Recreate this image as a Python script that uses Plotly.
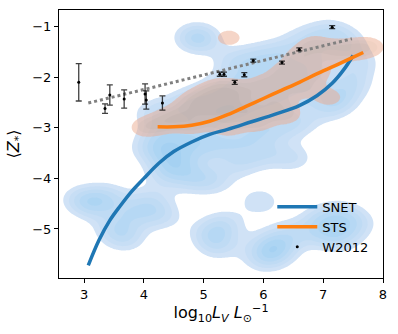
import numpy as np
import plotly.graph_objects as go

# ---- data ----
# SNET / STS running means
snet_x = [3.07, 3.25, 3.43, 3.6, 3.8, 4.0, 4.25, 4.5, 4.8, 5.1, 5.4, 5.8, 6.2, 6.6, 6.9, 7.15, 7.35, 7.5]
snet_y = [-5.72, -5.22, -4.83, -4.55, -4.25, -4.0, -3.70, -3.47, -3.28, -3.13, -3.03, -2.88, -2.73, -2.56, -2.36, -2.12, -1.84, -1.57]
sts_x = [4.23, 4.5, 4.8, 5.1, 5.4, 5.7, 6.0, 6.3, 6.6, 6.9, 7.2, 7.45, 7.67]
sts_y = [-2.98, -2.98, -2.95, -2.87, -2.74, -2.58, -2.42, -2.26, -2.10, -1.93, -1.77, -1.63, -1.51]

# W2012 observations
obs_x = [2.91, 3.35, 3.43, 3.67, 4.02, 4.04, 4.31, 5.27, 5.34, 5.52, 5.68, 5.83, 6.31, 6.6, 7.15]
obs_y = [-2.10, -2.62, -2.35, -2.43, -2.33, -2.45, -2.51, -1.94, -1.94, -2.10, -1.95, -1.67, -1.71, -1.45, -1.01]
obs_err = [0.37, 0.095, 0.2, 0.18, 0.2, 0.18, 0.14, 0.04, 0.04, 0.04, 0.04, 0.03, 0.03, 0.03, 0.03]

# W2012 fit
fit_x = [3.07, 7.48]
fit_y = [-2.51, -1.24]

# galaxies behind the density contours
snet_gx = [4.85, 4.95,
           5.5, 5.9, 6.3, 6.7, 7.1, 7.4, 7.6, 7.5, 7.3, 6.9, 6.5, 6.1, 5.7, 5.3, 4.9, 4.6, 4.15, 4.1,
           4.3, 4.4, 4.7, 5.0, 5.3, 5.6, 6.0, 6.4, 6.8, 7.1, 6.6, 6.2, 5.8, 5.4, 5.0, 4.6, 4.35, 4.8, 5.15, 5.6, 6.0, 6.5,
           2.95, 3.15, 3.4, 3.5, 3.7, 3.8, 4.1, 4.3,
           5.1, 5.25, 5.35, 5.95, 6.1, 6.25, 6.45, 6.0,
           6.95, 7.3, 7.55, 7.3, 7.0]
snet_gy = [-1.2, -1.25,
           -1.7, -1.6, -1.5, -1.25, -1.1, -1.3, -1.7, -2.1, -2.4, -1.7, -1.9, -2.0, -2.1, -2.2, -2.4, -2.6, -2.7, -3.4,
           -3.1, -3.5, -3.2, -2.9, -2.7, -2.6, -2.5, -2.4, -2.2, -2.6, -2.9, -3.0, -3.1, -3.3, -3.4, -3.7, -3.9, -4.0, -4.05, -3.7, -3.5, -3.6,
           -4.4, -4.55, -4.35, -5.0, -5.2, -4.7, -4.45, -4.75,
           -5.1, -5.35, -4.9, -4.45, -5.3, -5.45, -5.1, -5.6,
           -4.8, -4.7, -4.9, -5.2, -5.1]
sts_gx = [5.42,
          4.0, 4.3, 4.55, 4.8, 4.8, 5.05, 5.1, 5.3, 5.4, 5.4, 5.6, 5.75, 5.9, 6.0, 6.2, 6.35, 6.4, 6.6, 6.6,
          6.85, 6.9, 7.1, 7.2, 7.5, 7.8]
sts_gy = [-1.22,
          -3.0, -2.9, -2.75, -2.5, -2.95, -2.35, -2.7, -2.2, -2.6, -3.0, -2.3, -2.65, -2.9, -2.15, -2.5, -1.9, -2.75, -2.2, -1.6,
          -1.35, -1.9, -2.4, -1.5, -1.45, -1.4]

XR = [2.58, 8.0]
YR = [-5.97, -0.67]


def kde(px, py, bx, by):
    gx = np.linspace(XR[0], XR[1], 220)
    gy = np.linspace(YR[0], YR[1], 220)
    X, Y = np.meshgrid(gx, gy)
    Z = np.zeros_like(X)
    for a, b in zip(px, py):
        Z += np.exp(-((X - a) ** 2 / (2 * bx ** 2) + (Y - b) ** 2 / (2 * by ** 2)))
    return gx, gy, Z


def density_trace(px, py, bw, lo, hi, opacity, top):
    gx, gy, Z = kde(px, py, *bw)
    return go.Contour(
        x=gx, y=gy, z=Z,
        zmin=0, zmax=top,
        contours=dict(start=0.35, end=top, size=top / 11, coloring="fill"),
        colorscale=[[0, "rgba(255,255,255,0)"], [0.3 / top, "rgba(255,255,255,0)"],
                    [0.3 / top + 0.0001, lo], [1, hi]],
        line=dict(width=0), opacity=opacity,
        showscale=False, showlegend=False, hoverinfo="skip",
    )


fig = go.Figure()
fig.add_trace(density_trace(snet_gx, snet_gy, (0.27, 0.22),
                            "rgb(214,228,246)", "rgb(135,198,240)", 1, 4))
fig.add_trace(density_trace(sts_gx, sts_gy, (0.22, 0.17),
                            "rgb(244,178,150)", "rgb(155,110,70)", 0.5, 4))

fig.add_trace(go.Scatter(
    x=fit_x, y=fit_y, mode="lines",
    line=dict(color="#808080", width=3, dash="dot"),
    showlegend=False, hoverinfo="skip",
))
fig.add_trace(go.Scatter(
    x=snet_x, y=snet_y, mode="lines", name="SNET",
    line=dict(color="#1f77b4", width=3.5, shape="spline"),
))
fig.add_trace(go.Scatter(
    x=sts_x, y=sts_y, mode="lines", name="STS",
    line=dict(color="#ff7f0e", width=3.5, shape="spline"),
))
fig.add_trace(go.Scatter(
    x=obs_x, y=obs_y, mode="markers", name="W2012",
    marker=dict(color="black", size=3),
    error_y=dict(type="data", array=obs_err, color="rgba(0,0,0,0.75)", thickness=1.3, width=3),
))

fig.update_layout(
    width=398, height=334,
    margin=dict(l=59, r=15, t=10, b=56),
    plot_bgcolor="white", paper_bgcolor="white",
    font=dict(family="DejaVu Sans", size=13, color="black"),
    legend=dict(x=0.97, y=0.06, xanchor="right", yanchor="bottom",
                bgcolor="rgba(0,0,0,0)", font=dict(size=13), itemwidth=40,
                tracegroupgap=0),
)
fig.update_xaxes(
    range=XR, tickvals=[3, 4, 5, 6, 7, 8], showgrid=False, zeroline=False,
    showline=True, linecolor="black", linewidth=1, mirror=True,
    ticks="outside", ticklen=4, tickcolor="black", automargin=False,
    title=dict(text="log<sub>10</sub><i>L<sub>V</sub></i> <i>L</i><sub>⊙</sub><sup>−1</sup>", standoff=6),
)
fig.update_yaxes(
    range=YR, tickvals=[-5, -4, -3, -2, -1], showgrid=False, zeroline=False,
    showline=True, linecolor="black", linewidth=1, mirror=True,
    ticks="outside", ticklen=4, tickcolor="black", automargin=False,
    title=dict(text="⟨<i>Z</i><sub>*</sub>⟩", standoff=8),
)

# drop the browser's default body margin so the figure sits at the page origin
fig.write_html("out.html", config={"displayModeBar": False},
               post_script="document.body.style.margin='0';")
